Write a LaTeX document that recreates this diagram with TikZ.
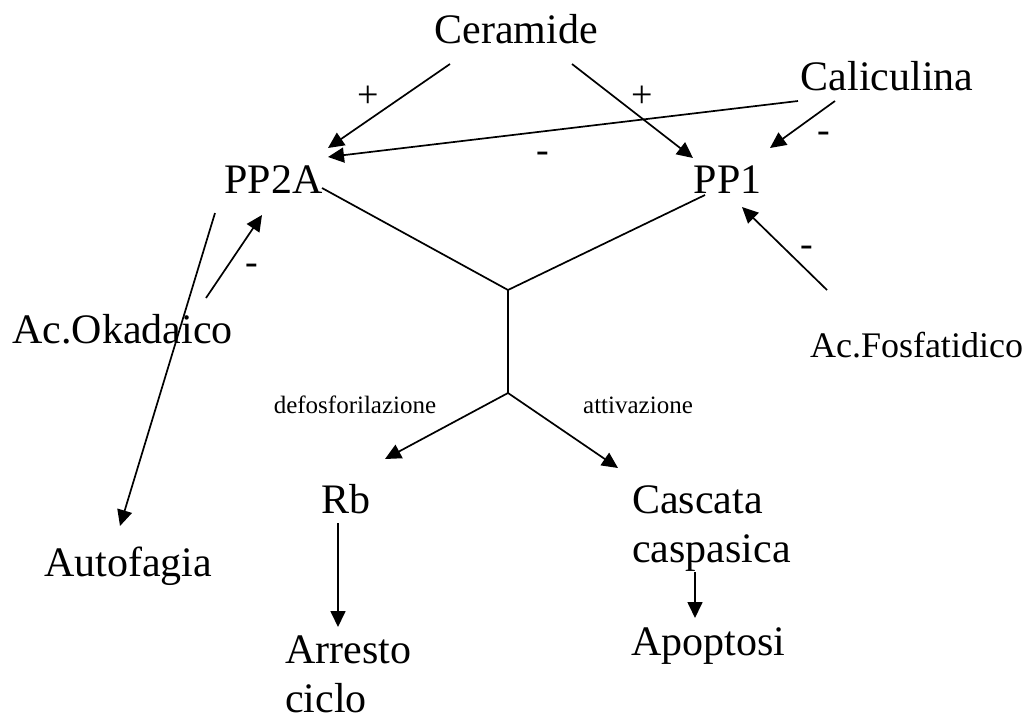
\documentclass[tikz,border=0pt]{standalone}
\usepackage{fontspec}
\setmainfont{Liberation Serif}
\usetikzlibrary{arrows.meta}
\begin{document}
\begin{tikzpicture}[x=1pt,y=-1pt,
  lbl/.style={inner sep=0pt,font=\fontsize{42}{49}\selectfont},
  small/.style={inner sep=0pt,font=\fontsize{25}{30}\selectfont},
  sign/.style={inner sep=0pt,font=\fontsize{38}{40}\selectfont},
  line/.style={line width=1.7pt},
  arr/.style={line width=1.7pt,-{Triangle[length=16pt,width=15pt]}}]
\useasboundingbox (0,0) rectangle (1034,715);
% nodes
\node[lbl,anchor=base] (cer) at (516,43) {Ceramide};
\node[lbl,anchor=base] (cal) at (887,90) {Caliculina};
\node[lbl,anchor=base] (pp2a) at (273.5,193) {PP2A};
\node[lbl,anchor=base] (pp1) at (727.5,193) {PP1};
\node[lbl,anchor=base] (oka) at (122.5,343) {Ac.Okadaico};
\node[inner sep=0pt,font=\fontsize{36}{42}\selectfont,anchor=base] (fos) at (916.5,357) {Ac.Fosfatidico};
\node[small,anchor=base] (defo) at (355,413) {defosforilazione};
\node[small,anchor=base] (attiv) at (638,413) {attivazione};
\node[lbl,anchor=base] (rb) at (346,513) {Rb};
\node[lbl,anchor=base west,align=left] (casc) at (632,562) {Cascata\\caspasica};
\node[lbl,anchor=base west,align=left] (arrc) at (285,712) {Arresto\\ciclo};
\node[lbl,anchor=base] (apo) at (708.5,655) {Apoptosi};
\node[lbl,anchor=base] (auto) at (128,576) {Autofagia};
% signs
\node[sign] (s1) at (368,97) {+};
\node[sign] (s2) at (642,97) {+};
\node[sign] (s3) at (543,157) {-};
\node[sign] (s4) at (824,137) {-};
\node[sign] (s5) at (807,251) {-};
\node[sign] (s6) at (252,269) {-};
% junctions
\coordinate (j1) at (508,290);
\coordinate (j2) at (508,393);
% connectors
\draw[arr] ([xshift=-66pt,yshift=-21pt]cer.base) -- ([xshift=54.5pt,yshift=45pt]pp2a.base);
\draw[arr] ([xshift=56pt,yshift=-21pt]cer.base) -- ([xshift=-34.5pt,yshift=35pt]pp1.base);
\draw[arr] ([xshift=-89pt,yshift=-11pt]cal.base) -- ([xshift=54.5pt,yshift=36pt]pp2a.base);
\draw[arr] ([xshift=-52pt,yshift=-11pt]cal.base) -- ([xshift=42.5pt,yshift=45pt]pp1.base);
\draw[arr] ([xshift=-89.5pt,yshift=67pt]fos.base) -- ([xshift=14.5pt,yshift=-14pt]pp1.base);
\draw[arr] ([xshift=83.5pt,yshift=45pt]oka.base) -- ([xshift=-11.5pt,yshift=-22pt]pp2a.base);
\draw[arr] ([xshift=-58.5pt,yshift=-20pt]pp2a.base) -- ([xshift=-8pt,yshift=50pt]auto.base);
\draw[line] ([xshift=48.5pt,yshift=5pt]pp2a.base) -- (j1);
\draw[line] ([xshift=-22.5pt,yshift=-2pt]pp1.base) -- (j1);
\draw[line] (j1) -- (j2);
\draw[arr] (j2) -- ([xshift=39pt,yshift=54pt]rb.base);
\draw[arr] (j2) -- ([xshift=-14pt,yshift=94pt]casc.base west);
\draw[arr] ([xshift=-8pt,yshift=-10pt]rb.base) -- ([xshift=53pt,yshift=85pt]arrc.base west);
\draw[arr] ([xshift=63pt,yshift=-10pt]casc.base west) -- ([xshift=-13.5pt,yshift=37pt]apo.base);
\end{tikzpicture}
\end{document}
